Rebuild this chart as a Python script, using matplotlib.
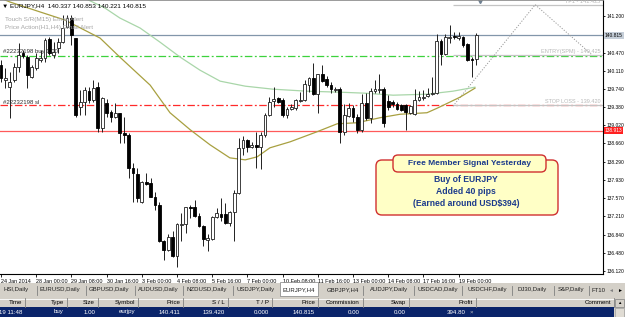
import numpy as np
import matplotlib
matplotlib.use("Agg")
import matplotlib.pyplot as plt
import matplotlib.transforms as mtransforms
from matplotlib.patches import Rectangle, FancyBboxPatch

plt.rcParams['font.family'] = ['Liberation Sans', 'DejaVu Sans']

# EURJPY H4 candles (bar 0 = 24 Jan 16:00)
opens = [140.22, 139.92, 139.78, 139.92, 140.18, 140.46, 140.38, 139.98, 140.16, 140.32,
         140.36, 140.74, 140.42, 140.56, 140.68, 140.98, 141.16, 140.76, 139.38, 139.48,
         139.70, 139.52, 139.78, 138.96, 139.46, 139.28, 139.18, 139.26, 138.86, 138.82,
         138.16, 138.04, 137.48, 137.88, 137.86, 137.58, 137.42, 136.72, 136.54, 136.80,
         136.42, 137.04, 137.06, 137.38, 137.38, 137.22, 137.02, 136.74, 136.76, 137.20,
         137.24, 137.24, 137.08, 137.28, 137.66, 138.56, 138.72, 138.58, 138.62, 138.58,
         138.82, 139.22, 139.50, 139.56, 139.52, 139.22, 139.34, 139.36, 139.50, 139.52,
         139.82, 139.96, 139.64, 140.04, 139.94, 139.82, 139.72, 139.74, 138.88, 139.20,
         139.36, 139.18, 138.92, 139.46, 139.16, 139.70, 139.73, 139.74, 139.50, 139.48,
         139.44, 139.42, 139.42, 139.26, 139.24, 139.52, 139.56, 139.60, 139.64, 139.66,
         140.70, 140.44, 140.76, 140.80, 140.76, 140.78, 140.64, 140.34, 140.337]
highs = [140.32, 140.16, 140.08, 140.26, 140.66, 140.52, 140.42, 140.22, 140.46, 140.52,
         140.76, 140.78, 140.68, 140.76, 141.22, 141.22, 141.22, 140.76, 139.72, 139.78,
         139.78, 139.92, 139.88, 139.58, 139.54, 139.32, 139.46, 139.26, 139.18, 138.86,
         138.26, 138.16, 137.90, 138.06, 137.96, 137.68, 137.48, 136.74, 136.86, 136.92,
         137.08, 137.26, 137.38, 137.42, 137.52, 137.26, 137.04, 136.86, 137.22, 137.36,
         137.56, 137.46, 137.30, 137.72, 138.76, 138.80, 138.74, 138.68, 138.88, 138.88,
         139.26, 139.58, 139.78, 139.58, 139.56, 139.38, 139.44, 139.54, 139.68, 139.92,
         139.98, 140.26, 140.04, 140.22, 140.00, 139.88, 139.78, 139.78, 139.44, 139.46,
         139.42, 139.24, 139.64, 139.66, 139.76, 139.92, 140.04, 139.78, 139.62, 139.52,
         139.48, 139.44, 139.44, 139.42, 139.74, 139.70, 139.72, 139.76, 139.98, 140.84,
         140.74, 140.84, 141.02, 140.88, 140.88, 140.80, 140.66, 140.38, 140.853]
lows = [139.88, 139.76, 139.16, 139.88, 140.08, 140.36, 139.76, 139.96, 140.12, 140.28,
        140.28, 140.42, 140.36, 140.46, 140.66, 140.96, 140.62, 139.18, 139.22, 139.22,
        139.46, 139.48, 138.88, 138.88, 139.18, 139.08, 139.16, 138.66, 138.66, 137.96,
        137.48, 137.48, 137.46, 137.82, 137.58, 137.32, 136.70, 136.34, 136.52, 136.40,
        136.20, 136.72, 136.88, 137.18, 137.20, 137.00, 136.62, 136.52, 136.74, 137.18,
        137.12, 137.06, 137.02, 136.72, 137.64, 138.42, 138.48, 138.56, 138.16, 138.14,
        138.78, 139.20, 139.38, 139.46, 139.18, 139.16, 139.32, 139.32, 139.48, 139.50,
        139.68, 139.62, 139.26, 139.88, 139.78, 139.66, 139.68, 138.66, 138.82, 139.18,
        139.08, 138.86, 138.88, 139.12, 139.06, 139.66, 139.66, 138.98, 139.32, 139.38,
        139.32, 139.30, 138.92, 139.24, 139.22, 139.50, 139.52, 139.58, 139.62, 139.64,
        140.22, 140.42, 140.66, 140.74, 140.72, 140.58, 140.30, 139.98, 140.221]
closes = [139.96, 139.96, 139.88, 140.18, 140.42, 140.40, 140.02, 140.18, 140.36, 140.36,
          140.72, 140.46, 140.48, 140.68, 140.96, 141.16, 140.82, 139.22, 139.48, 139.72,
          139.52, 139.76, 138.96, 139.56, 139.26, 139.18, 139.26, 138.86, 138.82, 138.16,
          138.06, 137.56, 137.88, 137.84, 137.58, 137.42, 136.72, 136.54, 136.80, 136.42,
          137.06, 137.06, 137.38, 137.37, 137.22, 137.02, 136.76, 136.78, 137.20, 137.26,
          137.20, 137.08, 137.28, 137.66, 138.56, 138.72, 138.58, 138.62, 138.58, 138.82,
          139.22, 139.48, 139.54, 139.48, 139.22, 139.34, 139.38, 139.52, 139.52, 139.84,
          139.96, 139.64, 140.04, 139.90, 139.82, 139.74, 139.74, 138.88, 139.22, 139.36,
          139.18, 138.92, 139.46, 139.16, 139.70, 139.74, 139.74, 139.06, 139.38, 139.44,
          139.34, 139.32, 139.28, 139.40, 139.52, 139.58, 139.58, 139.64, 139.66, 140.70,
          140.44, 140.78, 140.78, 140.78, 140.80, 140.62, 140.32, 140.32, 140.815]

# moving averages, traced as (bar, price)
ma_olive_bar = [-0.2, 2.0, 8.9, 14.5, 22.5, 27.0, 33.9, 38.4, 43.0, 47.5, 52.0, 55.5, 58.2,
                61.1, 65.7, 71.8, 76.4, 80.9, 86.1, 90.7, 96.8, 99.1, 104.3, 107.7]
ma_olive_px = [141.56, 141.48, 141.28, 141.12, 140.76, 140.38, 139.82, 139.27, 138.93, 138.63,
               138.37, 138.33, 138.39, 138.57, 138.69, 138.89, 139.05, 139.07, 139.17, 139.24,
               139.27, 139.36, 139.58, 139.76]
ma_green_bar = [18.9, 23.6, 27.0, 31.6, 36.1, 40.7, 45.2, 49.8, 55.5, 61.8, 69.5, 77.0, 82.7,
                89.1, 96.8, 102.7, 107.7]
ma_green_px = [141.56, 141.36, 141.16, 140.96, 140.68, 140.38, 140.12, 139.90, 139.80, 139.74,
               139.70, 139.68, 139.66, 139.62, 139.64, 139.70, 139.78]

time_labels = ["24 Jan 2014", "28 Jan 00:00", "29 Jan 08:00", "30 Jan 16:00", "3 Feb 00:00",
               "4 Feb 08:00", "5 Feb 16:00", "7 Feb 00:00", "10 Feb 08:00", "11 Feb 16:00",
               "13 Feb 00:00", "14 Feb 08:00", "17 Feb 16:00", "19 Feb 00:00"]
price_ticks = [136.120, 136.480, 136.840, 137.210, 137.570, 137.930, 138.290, 138.660,
               139.020, 139.380, 139.740, 140.110, 140.470, 141.200]

bid = 140.815
entry = 140.411
stop_loss = 139.420
alert_level = 138.913
plan_levels = [141.425, 140.425, 139.420]
plan_labels = ["TP1 - 141.425", "ENTRY(SPM) - 140.425", "STOP LOSS - 139.420"]
plan_start = 102.7
path_bar = [102.7, 121.4, 134.3]
path_px = [139.40, 141.425, 140.425]

tabs = ["HSI,Daily", "EURUSD,Daily", "GBPUSD,Daily", "AUDUSD,Daily", "NZDUSD,Daily",
        "USDJPY,Daily", "EURJPY,H4", "GBPJPY,H4", "AUDJPY,Daily", "USDCAD,Daily",
        "USDCHF,Daily", "DJ30,Daily", "S&P,Daily", "FT10"]
headers = ["Time", "Type", "Size", "Symbol", "Price", "S / L", "T / P", "Price",
           "Commission", "Swap", "Profit", "Comment"]
row = ["19 11:48", "buy", "1.00", "eurjpy", "140.411", "139.420", "0.000", "140.815",
       "0.00", "0.00", "394.80", ""]

fig = plt.figure(figsize=(6.25, 3.17), dpi=100)
fig.patch.set_facecolor("white")

ax = fig.add_axes([0, 43 / 317, 603 / 625, 274 / 317], zorder=2)
ax.set_xlim(-0.23, 136.8)
ax.set_ylim(136.053, 141.519)

# candles
x = np.arange(len(opens))
o = np.array(opens); c = np.array(closes)
bull = c >= o
ax.vlines(x, lows, highs, color="#202020", lw=0.7, zorder=3)
body_lo = np.minimum(o, c)
body_h = np.maximum(np.abs(c - o), 0.012)
ax.bar(x[bull], body_h[bull], bottom=body_lo[bull], width=0.62, color="white",
       edgecolor="#202020", lw=0.6, zorder=4)
ax.bar(x[~bull], body_h[~bull], bottom=body_lo[~bull], width=0.62, color="black",
       edgecolor="black", lw=0.6, zorder=4)

ax.plot(ma_green_bar, ma_green_px, color="#A9D6A9", lw=0.9, zorder=2)
ax.plot(ma_olive_bar, ma_olive_px, color="#A8A040", lw=0.9, zorder=2)

ax.axhline(bid, color="#8296AA", lw=0.9, zorder=1)
ax.axhline(alert_level, color="#FF5A5A", lw=0.9, zorder=1)
ax.axhline(entry, color="#3CD23C", lw=0.9, dashes=(6, 2, 1.5, 2), zorder=1)
ax.axhline(stop_loss, color="#FF2A2A", lw=0.9, dashes=(6, 2, 1.5, 2), zorder=1)

ax.hlines(plan_levels, plan_start, 136.8, color="#C4C4C4", lw=0.9, zorder=1)
for lvl, lab in zip(plan_levels, plan_labels):
    ax.text(136.2, lvl + 0.02, lab, fontsize=4.0, color="#B8B8B8", ha="right", va="bottom")
ax.plot(path_bar, path_px, color="#9A9A9A", lw=0.7, ls=(0, (1.2, 1.6)), zorder=1)
ax.plot([108.8], [141.50], marker="v", ms=3, color="#6E7F90", clip_on=False)

ax.spines["left"].set_visible(False)
ax.spines["top"].set_color("#8A8A8A")
ax.spines["top"].set_linewidth(1.2)
ax.spines["right"].set_color("black")
ax.spines["bottom"].set_color("black")
ax.spines["right"].set_linewidth(0.8)
ax.spines["bottom"].set_linewidth(0.8)

ax.yaxis.tick_right()
ax.set_yticks(price_ticks)
ax.set_yticklabels([f"{p:.3f}" for p in price_ticks])
ax.tick_params(axis="y", labelsize=3.5, length=1.5, width=0.6, pad=0.8)
ax.set_xticks(np.arange(len(time_labels)) * 8)
ax.set_xticklabels(time_labels)
ax.tick_params(axis="x", labelsize=3.9, length=2, width=0.6, pad=1.5)
for lbl in ax.get_xticklabels():
    lbl.set_ha("left")

trans = mtransforms.blended_transform_factory(ax.transAxes, ax.transData)
ax.text(1.003, bid, f"{bid:.3f}", transform=trans, fontsize=3.5, va="center", ha="left",
        bbox=dict(facecolor="#C5CED8", edgecolor="none", pad=0.7), clip_on=False)
ax.text(1.003, alert_level, f"{alert_level:.3f}", transform=trans, fontsize=3.5, va="center",
        ha="left", color="white", bbox=dict(facecolor="#FF2020", edgecolor="none", pad=0.7),
        clip_on=False)

# overlay in pixel coordinates for the terminal chrome
ov = fig.add_axes([0, 0, 1, 1], zorder=5)
ov.set_xlim(0, 625)
ov.set_ylim(317, 0)
ov.axis("off")
ov.patch.set_alpha(0)

ov.text(2, 6, "\u25bc EURJPY,H4  140.337 140.853 140.221 140.815", fontsize=4.6, va="center")
ov.text(5, 20, "Touch S/R(M15) Email Alert", fontsize=4.6, color="#A8A8A8", va="center")
ov.text(5, 28, "Price Action(H1,H4) Email Alert", fontsize=4.6, color="#A8A8A8", va="center")
ov.text(3, 52, "#22232198 buy 1.00", fontsize=4.3, color="#303030", va="center")
ov.text(3, 102, "#22232198 sl", fontsize=4.3, color="#303030", va="center")

# info box
ov.add_patch(FancyBboxPatch((376, 160), 182, 55, boxstyle="round,pad=0,rounding_size=6",
                            facecolor="#FFFFC6", edgecolor="#D03030", lw=1.0))
ov.add_patch(FancyBboxPatch((393, 155), 153, 17, boxstyle="round,pad=0,rounding_size=5",
                            facecolor="#FFFFC6", edgecolor="#D03030", lw=1.0))
ov.text(469.5, 163.5, "Free Member Signal Yesterday", fontsize=6.0, color="#1B3A8C",
        ha="center", va="center", fontweight="bold")
for ty, line in zip([179, 192, 204], ["Buy of EURJPY", "Added 40 pips", "(Earned around USD$394)"]):
    ov.text(466, ty, line, fontsize=6.2, color="#1B3A8C", ha="center", va="center",
            fontweight="bold")

# tab bar
ov.add_patch(Rectangle((0, 283), 625, 15, facecolor="#D4D0C8", edgecolor="none"))
tab_seps = [37, 86, 135, 183, 233, 363, 414, 462, 512, 554, 589]
tab_cx = [16, 60, 109, 158, 207, 256, 299, 343, 389, 438, 487, 532, 571, 599]
ov.add_patch(Rectangle((280, 282), 38, 14, facecolor="white", edgecolor="#808080", lw=0.5))
for sx in tab_seps:
    ov.plot([sx, sx], [286, 295], color="#808080", lw=0.6)
for cx, name in zip(tab_cx, tabs):
    ov.text(cx, 290, name, fontsize=4.3, ha="center", va="center", color="#202020")
ov.text(611, 290, "\u25c4", fontsize=3.6, ha="center", va="center", color="#808080")
ov.text(620, 290, "\u25ba", fontsize=3.6, ha="center", va="center", color="black")

# terminal table
col_right = [25, 67, 98, 138, 183, 228, 272, 318, 363, 409, 476, 614]
col_left = [-20] + col_right[:-1]
for i, (l, r) in enumerate(zip(col_left, col_right)):
    ov.add_patch(Rectangle((l, 298), r - l, 9, facecolor="#D4D0C8", edgecolor="none"))
    ov.plot([l + 0.5, r - 0.5], [298.5, 298.5], color="white", lw=0.6)
    ov.plot([r - 0.5, r - 0.5], [298, 307], color="#808080", lw=0.6)
    ov.text(r - 3, 302.5, headers[i], fontsize=4.4, ha="right", va="center")
ov.add_patch(Rectangle((0, 307), 614, 10, facecolor="#0A246A", edgecolor="none"))
for i, r in enumerate(col_right):
    if row[i]:
        shift = 10 if headers[i] == "Profit" else 3
        ov.text(r - shift, 312, row[i], fontsize=4.4, ha="right", va="center", color="white")
ov.text(471, 312, "\u00d7", fontsize=4.4, ha="center", va="center", color="#C0C0C0")
ov.add_patch(Rectangle((614, 298), 11, 19, facecolor="#D4D0C8", edgecolor="none"))
ov.add_patch(Rectangle((615, 299), 9, 8, facecolor="#D4D0C8", edgecolor="#808080", lw=0.5))
ov.text(619.5, 303, "\u25b2", fontsize=3.2, ha="center", va="center")
ov.add_patch(Rectangle((615, 308), 9, 9, facecolor="#E0DCD4", edgecolor="#A0A0A0", lw=0.5))

fig.savefig("out.png", dpi=100)
